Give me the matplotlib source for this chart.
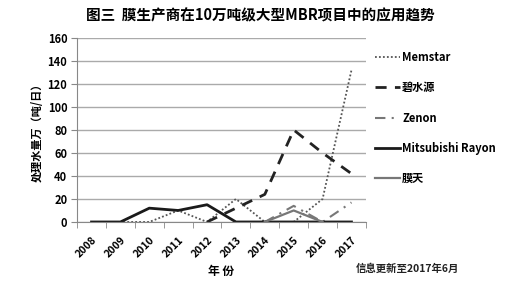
import matplotlib
matplotlib.use("Agg")
import matplotlib.pyplot as plt
from matplotlib.lines import Line2D

plt.rcParams['font.family'] = ['Noto Sans CJK SC', 'DejaVu Sans']

years = ['2008', '2009', '2010', '2011', '2012', '2013', '2014', '2015', '2016', '2017']
memstar = [0, 0, 0, 10, 0, 20, 0, 0, 20, 132]
bishuiyuan = [None, None, None, None, 0, 12, 24, 80, 60, 42]
zenon = [None, None, None, None, None, None, 0, 14, 0, 17]
mitsubishi = [0, 0, 12, 10, 15, 0, 0, 0, 0, 0]
motian = [None, None, None, None, None, None, 0, 10, 0, None]

names = ['Memstar', '碧水源', 'Zenon', 'Mitsubishi Rayon', '膜天']


def clean(vals):
    xs = [i for i, v in enumerate(vals) if v is not None]
    ys = [v for v in vals if v is not None]
    return xs, ys


fig = plt.figure(figsize=(5.28, 2.94), dpi=100)
ax = fig.add_axes([0.146, 0.245, 0.547, 0.626])

styles = [
    dict(color='#555555', lw=1.3, linestyle=(0, (1, 1.2))),
    dict(color='#222222', lw=2.0, linestyle=(0, (4, 3))),
    dict(color='#777777', lw=1.5, linestyle=(0, (5, 3, 1, 3))),
    dict(color='#1a1a1a', lw=2.0, linestyle='-'),
    dict(color='#777777', lw=1.6, linestyle='-'),
]
series = [memstar, bishuiyuan, zenon, mitsubishi, motian]
for vals, st in zip(series, styles):
    xs, ys = clean(vals)
    ax.plot(xs, ys, **st)

ax.set_xlim(-0.5, 9.5)
ax.set_ylim(0, 160)
ax.set_yticks(range(0, 161, 20))
ax.yaxis.grid(True, color='#aaaaaa', lw=1.0)
ax.set_axisbelow(True)
for s in ['top', 'right']:
    ax.spines[s].set_visible(False)
ax.spines['left'].set_color('#888888')
ax.spines['bottom'].set_color('#888888')
ax.tick_params(axis='y', length=4, color='#888888', labelsize=8, pad=3)
ax.set_xticks(range(10))
ax.set_xticklabels(years, rotation=45, fontsize=7.5, fontweight='bold',
                   ha='right', rotation_mode='anchor')
ax.tick_params(axis='x', length=0, pad=9)
ax.set_xticks([i - 0.5 for i in range(11)], minor=True)
ax.tick_params(axis='x', which='minor', length=4, color='#888888')
for lab in ax.get_yticklabels():
    lab.set_fontweight('bold')

ax.set_ylabel('处理水量万（吨/日）', fontsize=8, fontweight='bold', labelpad=3)
ax.set_xlabel('年 份', fontsize=8.5, fontweight='bold')
ax.xaxis.set_label_coords(0.5, -0.235)

fig.text(0.494, 0.948, '图三  膜生产商在10万吨级大型MBR项目中的应用趋势',
         ha='center', va='center', fontsize=10.5, fontweight='bold')
fig.text(0.771, 0.085, '信息更新至2017年6月', ha='center', va='center',
         fontsize=7.5, fontweight='bold', color='#222222')

handles = [Line2D([], [], **st) for st in styles]
fig.legend(handles, names, loc='upper left', bbox_to_anchor=(0.692, 0.86),
           frameon=False, handlelength=2.2, handletextpad=0.2,
           labelspacing=1.55, prop={'weight': 'bold', 'size': 8})

fig.savefig('out.png', dpi=100)
